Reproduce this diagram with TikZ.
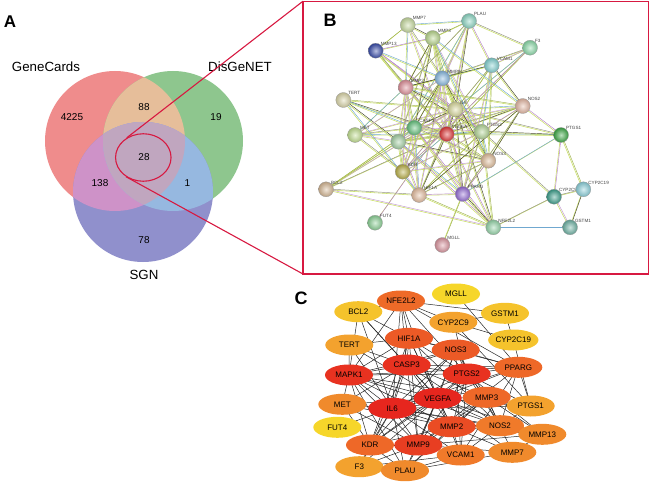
\documentclass[tikz,border=0pt]{standalone}
\usepackage{fontspec}
\setmainfont{Liberation Sans}
\usetikzlibrary{shapes.geometric,backgrounds}
\definecolor{vred}{RGB}{239,140,140}
\definecolor{vgreen}{RGB}{142,198,142}
\definecolor{vblue}{RGB}{144,144,204}
\definecolor{vrg}{RGB}{230,190,154}
\definecolor{vrb}{RGB}{206,146,200}
\definecolor{vgb}{RGB}{150,184,224}
\definecolor{vall}{RGB}{192,166,191}
\definecolor{crim}{RGB}{215,25,65}
% panel C colours
\definecolor{c1}{RGB}{230,38,30}
\definecolor{c2}{RGB}{232,50,32}
\definecolor{c3}{RGB}{232,62,34}
\definecolor{c4}{RGB}{234,76,36}
\definecolor{c5}{RGB}{236,90,38}
\definecolor{c6}{RGB}{238,104,40}
\definecolor{c7}{RGB}{240,122,42}
\definecolor{c8}{RGB}{240,138,44}
\definecolor{c9}{RGB}{243,162,46}
\definecolor{c10}{RGB}{245,195,44}
\definecolor{c11}{RGB}{246,214,42}
% string edge / node colours
\definecolor{eyg}{RGB}{200,222,100}
\definecolor{epu}{RGB}{180,128,200}
\definecolor{edk}{RGB}{70,70,40}
\definecolor{ebl}{RGB}{112,168,208}
\definecolor{sMGLL}{RGB}{220,150,160}
\definecolor{sFUT4}{RGB}{140,210,150}
\definecolor{sNFE2L2}{RGB}{150,215,170}
\definecolor{sGSTM1}{RGB}{110,180,165}
\definecolor{sBCL2}{RGB}{215,185,150}
\definecolor{sHIF1A}{RGB}{230,190,160}
\definecolor{sPPARG}{RGB}{150,110,215}
\definecolor{sCYP2C9}{RGB}{60,160,140}
\definecolor{sCYP2C19}{RGB}{140,210,220}
\definecolor{sKDR}{RGB}{185,175,70}
\definecolor{sNOS3}{RGB}{225,190,155}
\definecolor{sMAPK1}{RGB}{165,210,165}
\definecolor{sMET}{RGB}{195,225,145}
\definecolor{sPTGS1}{RGB}{60,170,70}
\definecolor{sPTGS2}{RGB}{180,215,150}
\definecolor{sVEGFA}{RGB}{225,55,55}
\definecolor{sCASP3}{RGB}{100,195,125}
\definecolor{sIL6}{RGB}{220,220,160}
\definecolor{sNOS2}{RGB}{230,185,165}
\definecolor{sTERT}{RGB}{220,215,170}
\definecolor{sMMP2}{RGB}{225,145,155}
\definecolor{sMMP9}{RGB}{135,185,225}
\definecolor{sVCAM1}{RGB}{130,210,210}
\definecolor{sMMP13}{RGB}{55,75,170}
\definecolor{sF3}{RGB}{140,220,170}
\definecolor{sMMP3}{RGB}{185,215,140}
\definecolor{sPLAU}{RGB}{140,215,195}
\definecolor{sMMP7}{RGB}{200,220,160}
\def\edgelist{VEGFA/IL6, VEGFA/MAPK1, VEGFA/PTGS2, VEGFA/CASP3, VEGFA/MMP9, VEGFA/MMP2, VEGFA/HIF1A, VEGFA/NOS3, VEGFA/KDR, VEGFA/PPARG, VEGFA/MMP3, VEGFA/NFE2L2, VEGFA/NOS2, VEGFA/VCAM1, VEGFA/MET, VEGFA/MMP13, VEGFA/MMP7, VEGFA/PLAU, VEGFA/TERT, VEGFA/F3, VEGFA/PTGS1, VEGFA/BCL2,
IL6/MAPK1, IL6/PTGS2, IL6/CASP3, IL6/MMP9, IL6/MMP2, IL6/HIF1A, IL6/NOS3, IL6/KDR, IL6/PPARG, IL6/MMP3, IL6/NOS2, IL6/VCAM1, IL6/MET, IL6/MMP13, IL6/PLAU, IL6/TERT, IL6/F3, IL6/PTGS1, IL6/BCL2, IL6/FUT4, IL6/NFE2L2,
MAPK1/PTGS2, MAPK1/CASP3, MAPK1/MMP9, MAPK1/MMP2, MAPK1/HIF1A, MAPK1/NOS3, MAPK1/KDR, MAPK1/PPARG, MAPK1/MMP3, MAPK1/MET, MAPK1/NFE2L2, MAPK1/TERT, MAPK1/BCL2, MAPK1/PLAU, MAPK1/NOS2,
PTGS2/CASP3, PTGS2/MMP9, PTGS2/MMP2, PTGS2/HIF1A, PTGS2/NOS3, PTGS2/PPARG, PTGS2/MMP3, PTGS2/NOS2, PTGS2/PTGS1, PTGS2/NFE2L2, PTGS2/VCAM1, PTGS2/CYP2C9, PTGS2/KDR, PTGS2/MMP13,
CASP3/MMP9, CASP3/MMP2, CASP3/HIF1A, CASP3/NOS3, CASP3/KDR, CASP3/PPARG, CASP3/MMP3, CASP3/BCL2, CASP3/TERT, CASP3/MET, CASP3/NOS2, CASP3/NFE2L2,
MMP9/MMP2, MMP9/MMP3, MMP9/MMP13, MMP9/MMP7, MMP9/PLAU, MMP9/HIF1A, MMP9/NOS3, MMP9/KDR, MMP9/VCAM1, MMP9/F3, MMP9/MET, MMP9/PPARG,
MMP2/MMP3, MMP2/MMP13, MMP2/MMP7, MMP2/PLAU, MMP2/HIF1A, MMP2/KDR, MMP2/VCAM1, MMP2/NOS2, MMP2/MET,
HIF1A/NOS3, HIF1A/KDR, HIF1A/PPARG, HIF1A/NOS2, HIF1A/NFE2L2, HIF1A/TERT, HIF1A/BCL2,
NOS3/KDR, NOS3/PPARG, NOS3/NOS2, NOS3/VCAM1, NOS3/MMP3,
KDR/MET, KDR/PLAU, KDR/F3,
PPARG/NFE2L2, PPARG/MGLL, PPARG/PTGS1, PPARG/NOS2, PPARG/VCAM1,
MMP3/MMP13, MMP3/MMP7, MMP3/PLAU, MMP3/NOS2,
CYP2C9/CYP2C19, CYP2C9/GSTM1, CYP2C9/PTGS1, CYP2C19/GSTM1, CYP2C19/PTGS1, GSTM1/NFE2L2, NFE2L2/CYP2C9,
VCAM1/F3, VCAM1/PLAU, VCAM1/NOS2, MMP7/MMP13, MMP7/PLAU, F3/PLAU, NFE2L2/BCL2, PTGS1/NOS2}
\begin{document}
\begin{tikzpicture}[x=1pt,y=-1pt,
  panel/.style={font=\fontsize{17}{17}\selectfont\bfseries},
  vlab/.style={font=\fontsize{13.3}{14}\selectfont},
  vnum/.style={font=\fontsize{10}{11}\selectfont},
  slab/.style={font=\fontsize{4.6}{5}\selectfont, text=black!75, inner sep=0.3pt},
  sball/.style={circle, minimum size=15pt, inner sep=0pt, shading=radial,
     inner color=#1!35!white, outer color=#1!85!black, draw=black!40, line width=0.3pt},
  cnode/.style={ellipse, minimum width=48pt, minimum height=21pt, inner sep=0pt, fill=#1,
     font=\fontsize{8}{9}\selectfont},
  ecol0/.style={draw=epu},
  ecol1/.style={draw=edk},
  ecol2/.style={draw=eyg!80!black},
  ecol3/.style={draw=ebl},
  ecol4/.style={draw=edk!60},
  ecol5/.style={draw=epu!80},
  cedge/.style={draw=black!85, line width=0.5pt},
]
\useasboundingbox (0,0) rectangle (650,484);

% ---------- Panel A : Venn ----------
\node[panel] (la) at (10,22) {A};
\fill[vred] (115,141) circle[radius=70pt];
\fill[vgreen] (173,141) circle[radius=70pt];
\begin{scope}
  \clip (115,141) circle[radius=70pt];
  \fill[vrg] (173,141) circle[radius=70pt];
\end{scope}
\fill[vblue] (143,192) circle[radius=70pt];
\begin{scope}
  \clip (115,141) circle[radius=70pt];
  \fill[vrb] (143,192) circle[radius=70pt];
\end{scope}
\begin{scope}
  \clip (173,141) circle[radius=70pt];
  \fill[vgb] (143,192) circle[radius=70pt];
\end{scope}
\begin{scope}
  \clip (115,141) circle[radius=70pt];
  \clip (173,141) circle[radius=70pt];
  \fill[vall] (143,192) circle[radius=70pt];
\end{scope}
\node[vlab] (gc) at (46,66.5) {GeneCards};
\node[vlab] (dg) at (240,66.5) {DisGeNET};
\node[vlab] (sg) at (144,275) {SGN};
\node[vnum] (n1) at (72,117) {4225};
\node[vnum] (n2) at (144,107.5) {88};
\node[vnum] (n3) at (216,117) {19};
\node[vnum] (n4) at (144,157) {28};
\node[vnum] (n5) at (100,183) {138};
\node[vnum] (n6) at (187.5,183) {1};
\node[vnum] (n7) at (144,240) {78};
\node[draw=crim, line width=1.1pt, ellipse, minimum width=55.5pt, minimum height=47.5pt] (sel) at (143.3,157.5) {};

% ---------- Panel B : STRING ----------
\coordinate (btl) at (303,1.2);
\coordinate (bbl) at (303,274);
\draw[crim, line width=1.1pt] (btl) rectangle (648.5,274);
\draw[crim, line width=1.1pt] (sel.130) -- (btl);
\draw[crim, line width=1.1pt] (sel.228) -- (bbl);
\node[panel, font=\fontsize{18}{18}\selectfont\bfseries] (lb) at (330,20) {B};

\foreach \n/\x/\y in {MGLL/442.3/245, FUT4/375/222.7, NFE2L2/493.3/227.3, GSTM1/570/227.3,
  BCL2/326/189.3, HIF1A/419/195, PPARG/462.7/194, CYP2C9/554/196.7, CYP2C19/583.3/189.3,
  KDR/402.7/171.7, NOS3/488.3/160.7, MET/355/135, PTGS1/561/135,
  PTGS2/481.7/131.7, VEGFA/446.7/134, CASP3/414.3/127.7, IL6/455.3/109.3, NOS2/522.7/106,
  TERT/343.3/100, MMP2/405.7/87.3, MMP9/442.3/78.3, VCAM1/491.7/65.3, MMP13/375.7/50.7,
  F3/530/47.7, MMP3/432.7/38, PLAU/469/21, MMP7/407.7/25}
  \node[sball=s\n, label={[slab, anchor=south west, label distance=-1.2pt]45:\n}] (b-\n) at (\x,\y) {};
\node[sball=sMAPK1] (b-MAPK1) at (398.3,141.7) {};

% ---------- Panel C : Cytoscape ----------
\node[panel, font=\fontsize{18}{18}\selectfont\bfseries] (lc) at (301,298) {C};
\node[cnode=c6!90!c7] (c-NFE2L2) at (401,301) {NFE2L2};
\node[cnode=c11] (c-MGLL) at (456,294) {MGLL};
\node[cnode=c10] (c-BCL2) at (358.3,311.7) {BCL2};
\node[cnode=c10] (c-GSTM1) at (505,313.3) {GSTM1};
\node[cnode=c9] (c-CYP2C9) at (453.3,322.3) {CYP2C9};
\node[cnode=c5] (c-HIF1A) at (409,338.3) {HIF1A};
\node[cnode=c10] (c-CYP2C19) at (513.3,340) {CYP2C19};
\node[cnode=c9] (c-TERT) at (349.3,345) {TERT};
\node[cnode=c5] (c-NOS3) at (455.7,350) {NOS3};
\node[cnode=c2] (c-CASP3) at (406.7,365) {CASP3};
\node[cnode=c6] (c-PPARG) at (518.3,367.3) {PPARG};
\node[cnode=c2] (c-MAPK1) at (349,375) {MAPK1};
\node[cnode=c2] (c-PTGS2) at (466.7,374) {PTGS2};
\node[cnode=c1] (c-VEGFA) at (437.7,398.3) {VEGFA};
\node[cnode=c6] (c-MMP3) at (486.7,397.3) {MMP3};
\node[cnode=c8] (c-MET) at (342.3,404.3) {MET};
\node[cnode=c1] (c-IL6) at (392.3,408.3) {IL6};
\node[cnode=c9] (c-PTGS1) at (530.7,406) {PTGS1};
\node[cnode=c11] (c-FUT4) at (337.3,427.3) {FUT4};
\node[cnode=c4] (c-MMP2) at (451.7,426.7) {MMP2};
\node[cnode=c7] (c-NOS2) at (500,425.7) {NOS2};
\node[cnode=c8] (c-MMP13) at (542.3,434.3) {MMP13};
\node[cnode=c6] (c-KDR) at (370,445) {KDR};
\node[cnode=c3] (c-MMP9) at (418.3,445) {MMP9};
\node[cnode=c7] (c-VCAM1) at (460.7,455) {VCAM1};
\node[cnode=c8] (c-MMP7) at (512.3,452.3) {MMP7};
\node[cnode=c9] (c-F3) at (359.3,466.7) {F3};
\node[cnode=c8] (c-PLAU) at (405,470.7) {PLAU};

\begin{scope}[on background layer]
  \foreach \a/\b [count=\i] in \edgelist {
    \pgfmathtruncatemacro\k{mod(\i,6)}
    \draw[eyg, line width=0.55pt, transform canvas={xshift=-0.45pt,yshift=-0.45pt}] (b-\a.center) -- (b-\b.center);
    \draw[ecol\k, line width=0.45pt, transform canvas={xshift=0.45pt,yshift=0.45pt}] (b-\a.center) -- (b-\b.center);
    \draw[cedge] (c-\a.center) -- (c-\b.center);
  }
\end{scope}
\end{tikzpicture}
\end{document}
